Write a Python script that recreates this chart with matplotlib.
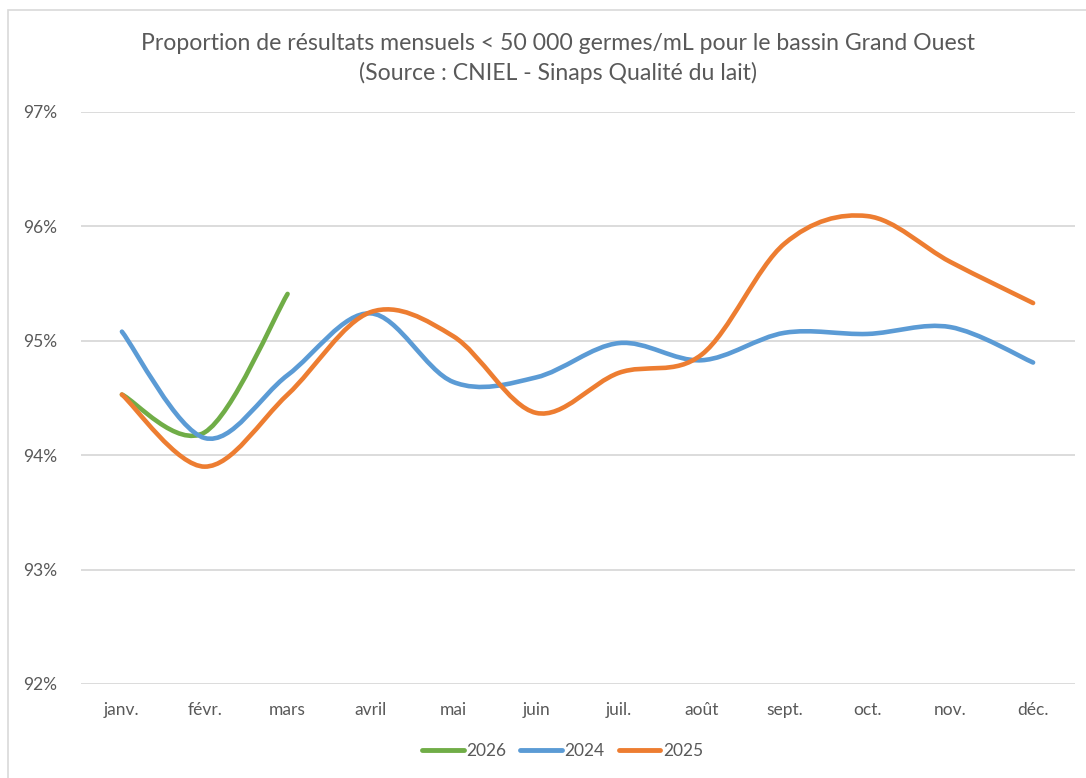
import numpy as np
import matplotlib.pyplot as plt
from matplotlib.path import Path
from matplotlib.patches import PathPatch, Rectangle
from matplotlib.lines import Line2D
from matplotlib.ticker import FuncFormatter

plt.rcParams['font.family'] = ['Lato', 'DejaVu Sans']

# données (proportion en %)
mois = ['janv.', 'févr.', 'mars', 'avril', 'mai', 'juin',
        'juil.', 'août', 'sept.', 'oct.', 'nov.', 'déc.']
v2026 = [94.53, 94.20, 95.41]
v2024 = [95.08, 94.15, 94.70, 95.24, 94.64, 94.68,
         94.98, 94.83, 95.07, 95.06, 95.12, 94.81]
v2025 = [94.53, 93.90, 94.53, 95.25, 95.04, 94.37,
         94.72, 94.88, 95.85, 96.09, 95.69, 95.33]

series = [('2026', v2026, '#70AD47'),
          ('2024', v2024, '#5B9BD5'),
          ('2025', v2025, '#ED7D31')]


def smooth_path(y):
    # lissage type Excel : bezier avec points de controle a 1/6
    x = np.arange(len(y), dtype=float)
    y = np.asarray(y, dtype=float)
    pts = np.column_stack([x, y])
    verts = [pts[0]]
    codes = [Path.MOVETO]
    n = len(pts)
    for i in range(n - 1):
        p0 = pts[max(i - 1, 0)]
        p1 = pts[i]
        p2 = pts[i + 1]
        p3 = pts[min(i + 2, n - 1)]
        c1 = p1 + (p2 - p0) / 6.0
        c2 = p2 - (p3 - p1) / 6.0
        verts += [c1, c2, p2]
        codes += [Path.CURVE4] * 3
    return Path(verts, codes)


fig = plt.figure(figsize=(10.86, 7.78), dpi=100)
ax = fig.add_axes([80.5 / 1086, 1 - 684 / 778, 994 / 1086, 572 / 778])

grey = '#595959'
for name, vals, col in series:
    patch = PathPatch(smooth_path(vals), facecolor='none', edgecolor=col,
                      lw=3.3, capstyle='round', joinstyle='round')
    ax.add_patch(patch)

ax.set_xlim(-0.5, 11.5)
ax.set_ylim(92, 97)
ax.set_yticks(np.arange(92, 97.5, 1))
ax.yaxis.set_major_formatter(FuncFormatter(lambda v, p: f'{v:.0f}%'))
ax.set_xticks(range(12))
ax.set_xticklabels(mois)
ax.grid(axis='y', color='#D9D9D9', lw=1.3)
ax.set_axisbelow(True)
for s in ax.spines.values():
    s.set_visible(False)
ax.tick_params(length=0, colors=grey, labelsize=12.5)
ax.tick_params(axis='x', pad=13)
ax.tick_params(axis='y', pad=17)

fig.text(0.514, 1 - 44 / 778,
         'Proportion de résultats mensuels < 50 000 germes/mL pour le bassin Grand Ouest',
         ha='center', va='center', fontsize=16.6, color=grey)
fig.text(0.514, 1 - 73 / 778, '(Source : CNIEL - Sinaps Qualité du lait)',
         ha='center', va='center', fontsize=16.6, color=grey)

handles = [Line2D([], [], color=c, lw=3.5, solid_capstyle='round') for _, _, c in series]
labels = [n for n, _, _ in series]
fig.legend(handles, labels, loc='center', bbox_to_anchor=(0.518, 1 - 751 / 778),
           ncol=3, frameon=False, fontsize=12.5, handlelength=2.4,
           handletextpad=0.15, columnspacing=0.8, labelcolor=grey)

# cadre du graphique
fig.add_artist(Rectangle((8 / 1086, -0.1), 1.2, 1 - 10 / 778 + 0.1,
                         transform=fig.transFigure, fill=False,
                         edgecolor='#D9D9D9', lw=1.2))

fig.savefig('out.png', dpi=100)
